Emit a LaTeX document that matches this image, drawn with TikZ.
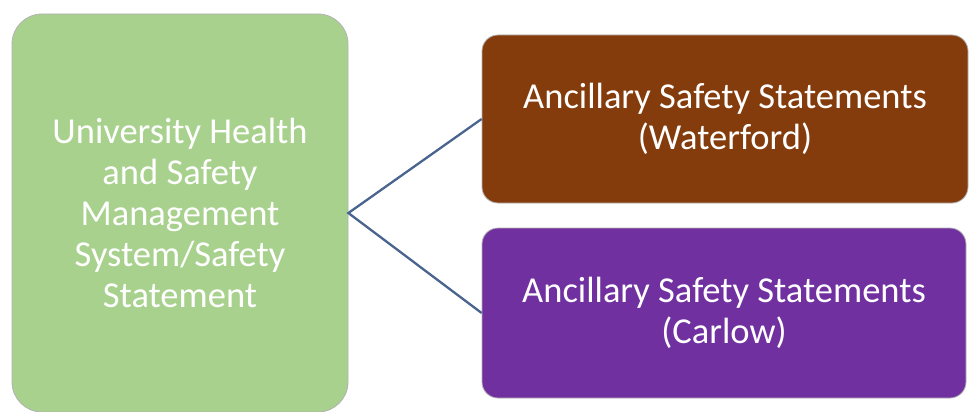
\documentclass[tikz,border=0pt]{standalone}
\usepackage{fontspec}
\setmainfont{Carlito}
\definecolor{mgreen}{HTML}{A9D18E}
\definecolor{mbrown}{HTML}{843C0C}
\definecolor{mpurple}{HTML}{7030A0}
\definecolor{mline}{HTML}{4A6490}
\tikzset{
  card/.style={draw=white!70!black, line width=0.8pt, rounded corners=#1, text=white,
    align=center, inner sep=0pt, font=\fontsize{36.5}{41}\selectfont},
  link/.style={draw=mline, line width=2.3pt}
}
\begin{document}
\begin{tikzpicture}[x=1pt,y=-1pt]
    \useasboundingbox (0,0) rectangle (969,412);
    \node[card=30pt, fill=mgreen, minimum width=336pt, minimum height=398pt] (ush) at (180,213)
      {University Health\\and Safety\\Management\\System/Safety\\Statement};
    \node[card=16pt, fill=mbrown, minimum width=486pt, minimum height=168pt] (wat) at (725,119)
      {Ancillary Safety Statements\\(Waterford)};
    \node[card=16pt, fill=mpurple, minimum width=484pt, minimum height=170pt] (car) at (724,313)
      {Ancillary Safety Statements\\(Carlow)};
    \draw[link] (wat.west) -- (ush.east) -- (car.west);
  \end{tikzpicture}
\end{document}
